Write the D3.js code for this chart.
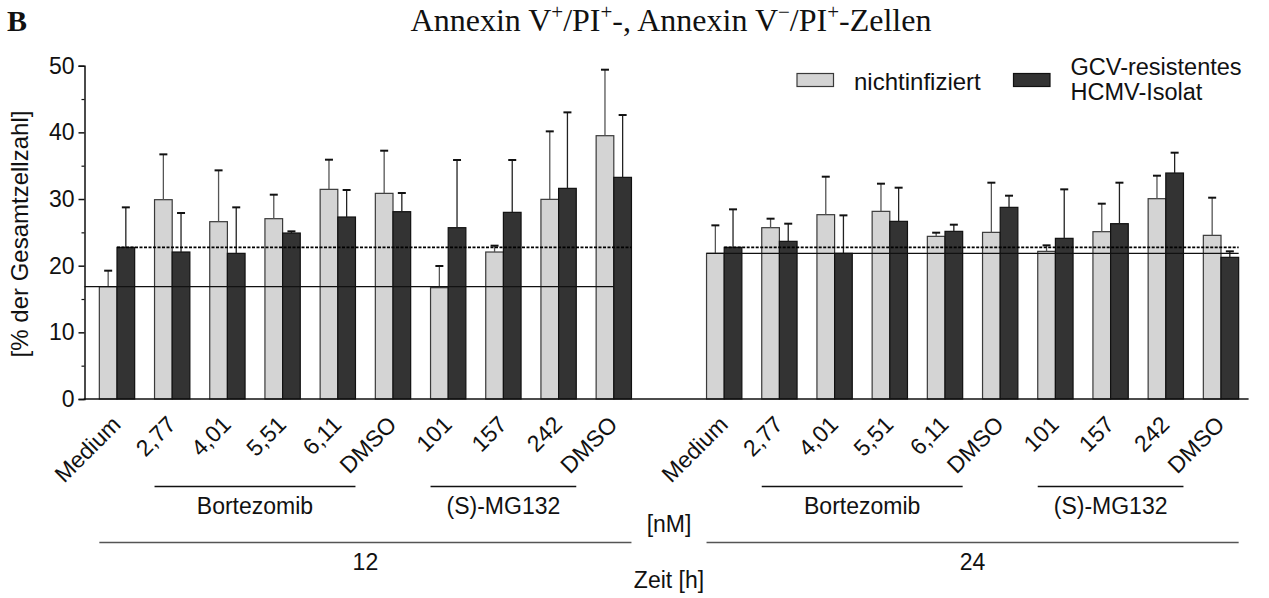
<!DOCTYPE html>
<html>
<head>
<meta charset="utf-8">
<script src="https://cdn.jsdelivr.net/npm/d3@7"></script>
<style>
  html, body { margin: 0; padding: 0; background: #fff; }
  svg { display: block; }
  text { font-family: "Liberation Sans", Arial, sans-serif; fill: #111; }
</style>
</head>
<body>
<svg id="chart" width="1269" height="598"></svg>
<script>
// ---------------- DATA ----------------
const categories = ["Medium", "2,77", "4,01", "5,51", "6,11", "DMSO", "101", "157", "242", "DMSO"];
const timePoints = ["12", "24"];
const seriesNames = ["nichtinfiziert", "GCV-resistentes HCMV-Isolat"];
const yTicks = [0, 10, 20, 30, 40, 50];

// 12 h
const uninf12 = [16.85, 29.9, 26.6, 27.05, 31.45, 30.85, 16.7, 22.05, 29.95, 39.5];
const uninf12Sd = [2.4, 6.8, 7.7, 3.6, 4.45, 6.4, 3.25, 0.95, 10.2, 9.9];
const hcmv12 = [22.75, 22.05, 21.85, 24.9, 27.3, 28.1, 25.7, 28.0, 31.6, 33.25];
const hcmv12Sd = [6.0, 5.85, 6.9, 0.25, 4.05, 2.8, 10.15, 7.85, 11.4, 9.35];
// 24 h
const uninf24 = [21.85, 25.7, 27.65, 28.15, 24.4, 25.0, 22.15, 25.1, 30.05, 24.55];
const uninf24Sd = [4.2, 1.35, 5.7, 4.15, 0.55, 7.45, 0.9, 4.2, 3.45, 5.65];
const hcmv24 = [22.75, 23.65, 21.85, 26.65, 25.15, 28.75, 24.1, 26.3, 33.9, 21.25];
const hcmv24Sd = [5.7, 2.65, 5.7, 5.05, 1.0, 1.75, 7.35, 6.15, 3.05, 0.9];

const drugGroups = [
  { name: "Bortezomib", from: 1, to: 4 },
  { name: "(S)-MG132", from: 6, to: 8 }
];

// ---------------- BUILD ----------------
const svg = d3.select("#chart");
const colors = ["#d4d4d4", "#333333"];
const strokes = ["#3a3a3a", "#111111"];

const nCat = categories.length;
const slots = d3.range(nCat * 2 + 1);           // 10 + gap + 10
const slotOf = (t, c) => t * (nCat + 1) + c;

const x = d3.scaleBand().domain(slots).range([89.4, 1248.6])
  .paddingInner(0.36).paddingOuter(0.18);
const xs = d3.scaleBand().domain([0, 1]).range([0, x.bandwidth()]);
const y = d3.scaleLinear().domain([0, 50]).range([399, 65.7]);
const axisX0 = 84.5;

const table = [];
const means = [[uninf12, hcmv12], [uninf24, hcmv24]];
const sds = [[uninf12Sd, hcmv12Sd], [uninf24Sd, hcmv24Sd]];
timePoints.forEach((t, ti) => {
  categories.forEach((c, ci) => {
    [0, 1].forEach(si => {
      table.push({ ti, ci, si, v: means[ti][si][ci], sd: sds[ti][si][ci] });
    });
  });
});

// bars
const g = svg.append("g");
g.selectAll("rect.bar").data(table).enter().append("rect")
  .attr("class", "bar")
  .attr("x", d => x(slotOf(d.ti, d.ci)) + xs(d.si))
  .attr("y", d => y(d.v))
  .attr("width", xs.bandwidth())
  .attr("height", d => y(0) - y(d.v))
  .attr("fill", d => colors[d.si])
  .attr("stroke", d => strokes[d.si])
  .attr("stroke-width", 1.2);

// error bars (upper only)
const eb = g.selectAll("g.err").data(table).enter().append("g").attr("class", "err");
const cx = d => x(slotOf(d.ti, d.ci)) + xs(d.si) + xs.bandwidth() / 2;
eb.append("line")
  .attr("x1", cx).attr("x2", cx)
  .attr("y1", d => y(d.v)).attr("y2", d => y(d.v + d.sd))
  .attr("stroke", d => d.si === 0 ? "#555" : "#222").attr("stroke-width", 1.3);
eb.append("line")
  .attr("x1", d => cx(d) - 4).attr("x2", d => cx(d) + 4)
  .attr("y1", d => y(d.v + d.sd)).attr("y2", d => y(d.v + d.sd))
  .attr("stroke", "#111").attr("stroke-width", 2);

// reference lines (Medium values)
timePoints.forEach((t, ti) => {
  const first = slotOf(ti, 0), last = slotOf(ti, nCat - 1);
  const solidStart = ti === 0 ? axisX0 : x(first);
  const solidEnd = ti === 0 ? x(last) + x.bandwidth() / 2 : x(last) + x.bandwidth();
  g.append("line")
    .attr("x1", solidStart).attr("x2", solidEnd)
    .attr("y1", y(means[ti][0][0])).attr("y2", y(means[ti][0][0]))
    .attr("stroke", "#111").attr("stroke-width", 1.2);
  g.append("line")
    .attr("x1", x(first) + x.bandwidth() / 2).attr("x2", x(last) + x.bandwidth())
    .attr("y1", y(means[ti][1][0])).attr("y2", y(means[ti][1][0]))
    .attr("stroke", "#000").attr("stroke-width", 1.6)
    .attr("stroke-dasharray", "3,1.5");
});

// y axis
const yAxis = svg.append("g").attr("transform", `translate(${axisX0},0)`)
  .call(d3.axisLeft(y).tickValues(yTicks).tickSize(6).tickPadding(4).tickFormat(d3.format("d")));
yAxis.selectAll("text").style("font-size", "23px").attr("fill", "#111");
yAxis.selectAll("line, path").attr("stroke", "#111").attr("stroke-width", 1.5);
const yMinor = svg.append("g").attr("transform", `translate(${axisX0},0)`)
  .call(d3.axisLeft(y).tickValues([5, 15, 25, 35, 45]).tickSize(3).tickFormat(""));
yMinor.select("path").remove();
yMinor.selectAll("line").attr("stroke", "#111").attr("stroke-width", 1.2);

// x axis line
svg.append("line").attr("x1", axisX0 - 0.75).attr("x2", x.range()[1])
  .attr("y1", y(0)).attr("y2", y(0)).attr("stroke", "#111").attr("stroke-width", 1.5);

// rotated category labels
timePoints.forEach((t, ti) => {
  categories.forEach((c, ci) => {
    const px = x(slotOf(ti, ci)) + x.bandwidth() / 2 + 5;
    svg.append("text")
      .attr("transform", `translate(${px},426) rotate(-45)`)
      .attr("text-anchor", "end")
      .style("font-size", "23px")
      .text(c);
  });
  // drug groups
  drugGroups.forEach(dg => {
    const x1 = x(slotOf(ti, dg.from)), x2 = x(slotOf(ti, dg.to)) + x.bandwidth();
    svg.append("line").attr("x1", x1).attr("x2", x2).attr("y1", 486.5).attr("y2", 486.5)
      .attr("stroke", "#111").attr("stroke-width", 1.3);
    svg.append("text").attr("x", (x1 + x2) / 2).attr("y", 514).attr("text-anchor", "middle")
      .style("font-size", "23px").text(dg.name);
  });
  // time lines
  const tx1 = x(slotOf(ti, 0)), tx2 = x(slotOf(ti, nCat - 1)) + x.bandwidth();
  svg.append("line").attr("x1", tx1).attr("x2", tx2).attr("y1", 542.5).attr("y2", 542.5)
    .attr("stroke", "#555").attr("stroke-width", 1.6);
  svg.append("text").attr("x", (tx1 + tx2) / 2).attr("y", 570).attr("text-anchor", "middle")
    .style("font-size", "23px").text(t);
});

const gapCenter = x(nCat) + x.bandwidth() / 2;
svg.append("text").attr("x", gapCenter).attr("y", 532).attr("text-anchor", "middle")
  .style("font-size", "23px").text("[nM]");
svg.append("text").attr("x", gapCenter).attr("y", 588).attr("text-anchor", "middle")
  .style("font-size", "23px").text("Zeit [h]");

// y axis title
svg.append("text")
  .attr("transform", `translate(28,234) rotate(-90)`)
  .attr("text-anchor", "middle")
  .style("font-size", "24px")
  .text("[% der Gesamtzellzahl]");

// panel letter & title
svg.append("text").attr("x", 7).attr("y", 31)
  .style("font-family", "'Liberation Serif', 'Times New Roman', serif")
  .style("font-weight", "bold").style("font-size", "30px").text("B");

const title = svg.append("text").attr("x", 671).attr("y", 31).attr("text-anchor", "middle")
  .style("font-family", "'Liberation Serif', 'Times New Roman', serif")
  .style("font-size", "32px");
const titleParts = [
  ["Annexin V", false], ["+", true], ["/PI", false], ["+", true], ["-, Annexin V", false],
  ["\u2212", true], ["/PI", false], ["+", true], ["-Zellen", false]
];
titleParts.forEach(([s, sup]) => {
  const ts = title.append("tspan").text(s);
  if (sup) ts.attr("baseline-shift", "super").style("font-size", "21px");
});

// legend
const legendItems = [
  { si: 0, x: 797, lines: ["nichtinfiziert"], ty: [89.5] },
  { si: 1, x: 1013.5, lines: ["GCV-resistentes", "HCMV-Isolat"], ty: [75, 99.5] }
];
legendItems.forEach(li => {
  svg.append("rect").attr("x", li.x).attr("y", 73.5).attr("width", 36.5).attr("height", 13)
    .attr("fill", colors[li.si]).attr("stroke", strokes[li.si]).attr("stroke-width", 1.2);
  li.lines.forEach((ln, k) => {
    svg.append("text").attr("x", li.x + 57).attr("y", li.ty[k])
      .style("font-size", li.lines.length > 1 ? "23.5px" : "24px").text(ln);
  });
});
</script>
</body>
</html>
